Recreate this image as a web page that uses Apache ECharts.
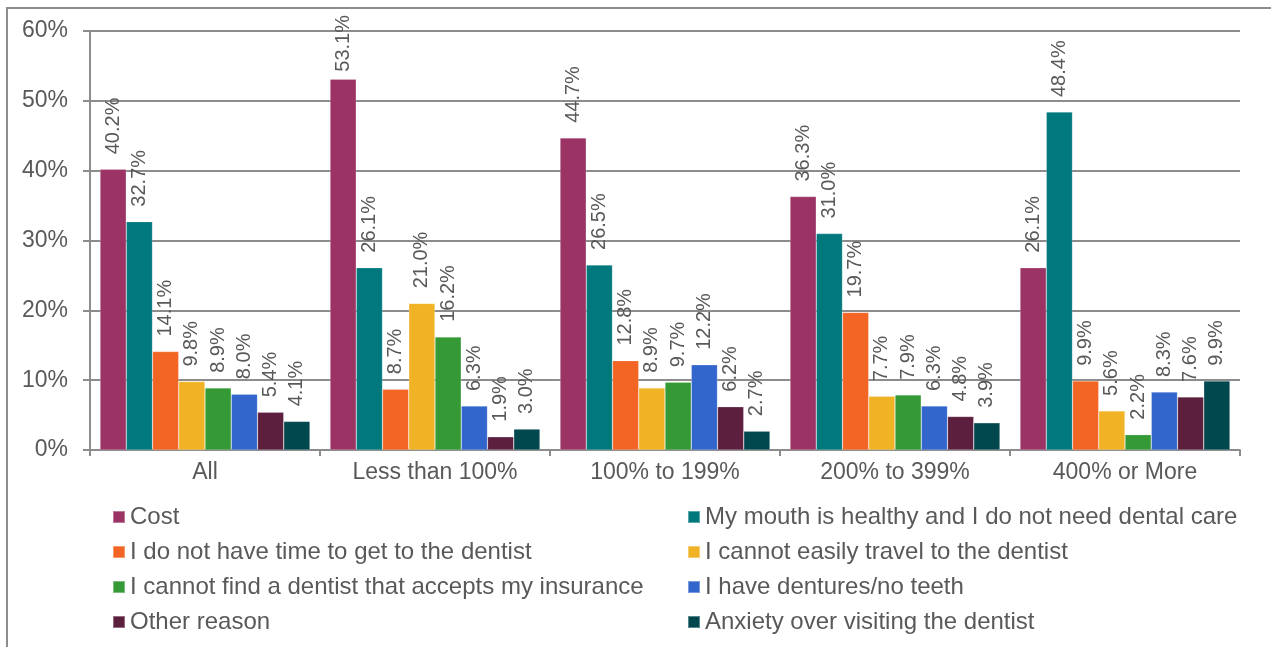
<!DOCTYPE html>
<html>
<head>
<meta charset="utf-8">
<title>Reasons for not visiting the dentist</title>
<script src="https://cdn.jsdelivr.net/npm/echarts@6/dist/echarts.min.js"></script>
<style>
  html, body { margin: 0; padding: 0; background: #ffffff; }
  #chart { width: 1271px; height: 647px; }
</style>
</head>
<body>
<div id="chart"></div>
<script>
// Income groups (percent of the federal poverty level)
const categories = ['All', 'Less than 100%', '100% to 199%', '200% to 399%', '400% or More'];

// Share of respondents giving each reason, by income group (%)
const cost         = [40.2, 53.1, 44.7, 36.3, 26.1];
const healthy      = [32.7, 26.1, 26.5, 31.0, 48.4];
const noTime       = [14.1,  8.7, 12.8, 19.7,  9.9];
const travel       = [ 9.8, 21.0,  8.9,  7.7,  5.6];
const insurance    = [ 8.9, 16.2,  9.7,  7.9,  2.2];
const dentures     = [ 8.0,  6.3, 12.2,  6.3,  8.3];
const otherReason  = [ 5.4,  1.9,  6.2,  4.8,  7.6];
const anxiety      = [ 4.1,  3.0,  2.7,  3.9,  9.9];

const yTicks = [0, 10, 20, 30, 40, 50, 60];

const seriesDefs = [
  { name: 'Cost', data: cost, color: '#9b3364' },
  { name: 'My mouth is healthy and I do not need dental care', data: healthy, color: '#00787c' },
  { name: 'I do not have time to get to the dentist', data: noTime, color: '#f26524' },
  { name: 'I cannot easily travel to the dentist', data: travel, color: '#f0b326' },
  { name: 'I cannot find a dentist that accepts my insurance', data: insurance, color: '#359a35' },
  { name: 'I have dentures/no teeth', data: dentures, color: '#3366cc' },
  { name: 'Other reason', data: otherReason, color: '#5c1f3e' },
  { name: 'Anxiety over visiting the dentist', data: anxiety, color: '#00474e' }
];

const FONT = '"Liberation Sans", Arial, sans-serif';
const TEXT = '#595959';
const LINE = '#8c8c8c';
const LABEL_SIZE = 20;
const LABEL_DISTANCE = 15;
const LABEL_TOP_LIMIT = 15; // value labels are kept below this line

const fmt = v => v.toFixed(1) + '%';

const chart = echarts.init(document.getElementById('chart'), null, { renderer: 'canvas' });

const legendBase = {
  orient: 'vertical',
  top: 505,
  padding: 0,
  itemWidth: 12,
  itemHeight: 12,
  itemGap: 11,
  icon: 'rect',
  selectedMode: false,
  textStyle: { fontFamily: FONT, fontSize: 24, color: TEXT, lineHeight: 24 }
};

chart.setOption({
  animation: false,
  color: seriesDefs.map(s => s.color),
  graphic: [{
    type: 'rect',
    shape: { x: 7, y: 8, width: 1400, height: 800 },
    style: { fill: 'none', stroke: LINE, lineWidth: 2 },
    silent: true,
    z: -1
  }],
  legend: [
    Object.assign({}, legendBase, {
      left: 112,
      data: [seriesDefs[0].name, seriesDefs[2].name, seriesDefs[4].name, seriesDefs[6].name]
    }),
    Object.assign({}, legendBase, {
      left: 687,
      data: [seriesDefs[1].name, seriesDefs[3].name, seriesDefs[5].name, seriesDefs[7].name]
    })
  ],
  grid: { left: 90, right: 31, top: 31, bottom: 197, containLabel: false },
  xAxis: {
    type: 'category',
    data: categories,
    axisLine: { show: true, lineStyle: { color: LINE, width: 2 } },
    axisTick: { show: true, alignWithLabel: false, length: 6, lineStyle: { color: LINE, width: 2 } },
    axisLabel: { fontFamily: FONT, fontSize: 23, color: TEXT, margin: 11 }
  },
  yAxis: {
    type: 'value',
    min: yTicks[0],
    max: yTicks[yTicks.length - 1],
    interval: 10,
    axisLine: { show: true, lineStyle: { color: LINE, width: 2 } },
    axisTick: { show: true, length: 7, lineStyle: { color: LINE, width: 2 } },
    splitLine: { show: true, lineStyle: { color: LINE, width: 2 } },
    axisLabel: { fontFamily: FONT, fontSize: 23, color: TEXT, margin: 22, formatter: '{value}%' }
  },
  series: seriesDefs.map(s => ({
    name: s.name,
    type: 'bar',
    data: s.data,
    barGap: '0%',
    barCategoryGap: '8.7%',
    itemStyle: { color: s.color, borderColor: 'rgba(255,255,255,0.35)', borderWidth: 0.6 },
    label: {
      show: true,
      position: 'top',
      rotate: 90,
      align: 'left',
      verticalAlign: 'middle',
      distance: LABEL_DISTANCE,
      fontFamily: FONT,
      fontSize: LABEL_SIZE,
      color: TEXT,
      formatter: p => fmt(p.value)
    }
  }))
});

// Rotated value labels that would run above the chart are pulled closer to their bar.
const measureCtx = document.createElement('canvas').getContext('2d');
measureCtx.font = LABEL_SIZE + 'px ' + FONT;
chart.setOption({
  series: seriesDefs.map(s => ({
    data: s.data.map((v, i) => {
      const barTop = chart.convertToPixel({ gridIndex: 0 }, [i, v])[1];
      const len = measureCtx.measureText(fmt(v)).width;
      if (barTop - LABEL_DISTANCE - len < LABEL_TOP_LIMIT) {
        return { value: v, label: { distance: Math.max(0, barTop - len - LABEL_TOP_LIMIT) } };
      }
      return v;
    })
  }))
});
</script>
</body>
</html>
